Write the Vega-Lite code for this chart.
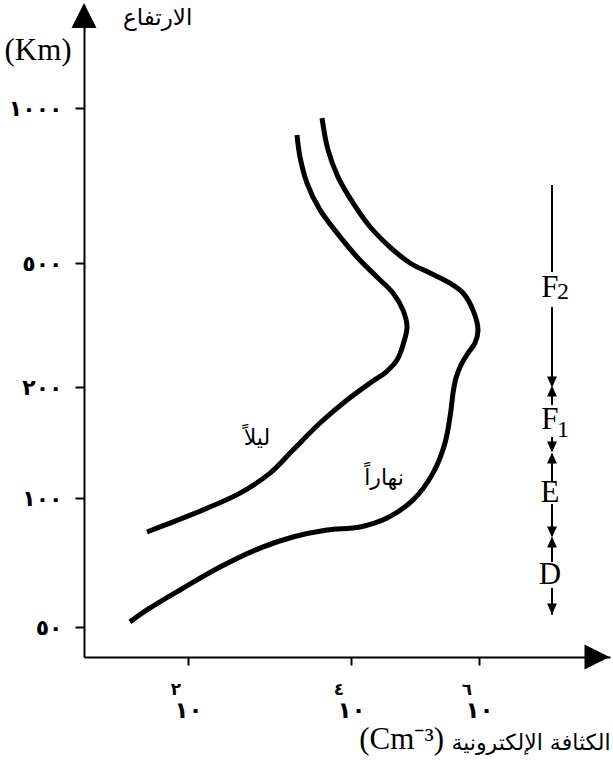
{
  "$schema": "https://vega.github.io/schema/vega-lite/v6.json",
  "width": 526,
  "height": 652,
  "autosize": "none",
  "padding": {"left": 84, "top": 5, "right": 3, "bottom": 113},
  "background": "white",
  "config": {"view": {"stroke": null}},
  "datasets": {
    "curves": [
      {"s": "day", "i": 1, "density": 4406, "alt": 956},
      {"s": "day", "i": 2, "density": 5224, "alt": 829},
      {"s": "day", "i": 3, "density": 6918, "alt": 735},
      {"s": "day", "i": 4, "density": 10746, "alt": 654},
      {"s": "day", "i": 5, "density": 19815, "alt": 588},
      {"s": "day", "i": 6, "density": 40644, "alt": 537},
      {"s": "day", "i": 7, "density": 83560, "alt": 500},
      {"s": "day", "i": 8, "density": 171400, "alt": 464.5},
      {"s": "day", "i": 9, "density": 352400, "alt": 431},
      {"s": "day", "i": 10, "density": 562300, "alt": 400.6},
      {"s": "day", "i": 11, "density": 805400, "alt": 353},
      {"s": "day", "i": 12, "density": 964400, "alt": 304.8},
      {"s": "day", "i": 13, "density": 866000, "alt": 276.8},
      {"s": "day", "i": 14, "density": 673500, "alt": 257},
      {"s": "day", "i": 15, "density": 523300, "alt": 235.3},
      {"s": "day", "i": 16, "density": 437100, "alt": 213.7},
      {"s": "day", "i": 17, "density": 392500, "alt": 192.6},
      {"s": "day", "i": 18, "density": 365200, "alt": 173.2},
      {"s": "day", "i": 19, "density": 294400, "alt": 141},
      {"s": "day", "i": 20, "density": 191000, "alt": 116.8},
      {"s": "day", "i": 21, "density": 93130, "alt": 98.9},
      {"s": "day", "i": 22, "density": 36520, "alt": 89.8},
      {"s": "day", "i": 23, "density": 13820, "alt": 85.6},
      {"s": "day", "i": 24, "density": 5076, "alt": 84.2},
      {"s": "day", "i": 25, "density": 1941, "alt": 81.1},
      {"s": "day", "i": 26, "density": 763.6, "alt": 76.4},
      {"s": "day", "i": 27, "density": 247, "alt": 69},
      {"s": "day", "i": 28, "density": 79.8, "alt": 61},
      {"s": "day", "i": 29, "density": 31.4, "alt": 54.8},
      {"s": "day", "i": 30, "density": 19.4, "alt": 51.4},
      {"s": "night", "i": 1, "density": 2175, "alt": 886},
      {"s": "night", "i": 2, "density": 2367, "alt": 803},
      {"s": "night", "i": 3, "density": 2884, "alt": 715},
      {"s": "night", "i": 4, "density": 4165, "alt": 634},
      {"s": "night", "i": 5, "density": 6734, "alt": 572},
      {"s": "night", "i": 6, "density": 12410, "alt": 513.6},
      {"s": "night", "i": 7, "density": 25470, "alt": 450.8},
      {"s": "night", "i": 8, "density": 45290, "alt": 400.6},
      {"s": "night", "i": 9, "density": 64940, "alt": 353},
      {"s": "night", "i": 10, "density": 74990, "alt": 311.6},
      {"s": "night", "i": 11, "density": 64940, "alt": 272.8},
      {"s": "night", "i": 12, "density": 52330, "alt": 244.1},
      {"s": "night", "i": 13, "density": 35240, "alt": 223.4},
      {"s": "night", "i": 14, "density": 22080, "alt": 209.1},
      {"s": "night", "i": 15, "density": 8933, "alt": 184.4},
      {"s": "night", "i": 16, "density": 4165, "alt": 159.7},
      {"s": "night", "i": 17, "density": 1941, "alt": 134.9},
      {"s": "night", "i": 18, "density": 1014, "alt": 116.8},
      {"s": "night", "i": 19, "density": 434.6, "alt": 103.1},
      {"s": "night", "i": 20, "density": 152.8, "alt": 93.8},
      {"s": "night", "i": 21, "density": 60.1, "alt": 87.4},
      {"s": "night", "i": 22, "density": 31.4, "alt": 83.3}
    ],
    "curveLabels": [
      {"label": "ليلاً", "density": 702, "alt": 145.4},
      {"label": "نهاراً", "density": 32780, "alt": 113.3}
    ],
    "segments": [
      {"top": 708.8, "bottom": 467.7},
      {"top": 361.3, "bottom": 203},
      {"top": 197.5, "bottom": 178.7},
      {"top": 146.4, "bottom": 134.1},
      {"top": 131.6, "bottom": 110.5},
      {"top": 96.8, "bottom": 81.5},
      {"top": 80.7, "bottom": 70.9},
      {"top": 61.7, "bottom": 53.4}
    ],
    "arrowheads": [
      {"alt": 207.5, "dir": "down"},
      {"alt": 195.1, "dir": "up"},
      {"alt": 137.5, "dir": "down"},
      {"alt": 128.4, "dir": "up"},
      {"alt": 83.3, "dir": "down"},
      {"alt": 78.9, "dir": "up"},
      {"alt": 55.1, "dir": "down"}
    ],
    "layerNames": [
      {"name": "F", "alt": 415.6},
      {"name": "F", "alt": 162.8},
      {"name": "E", "alt": 103.1},
      {"name": "D", "alt": 66.1}
    ],
    "layerSubs": [
      {"sub": "2", "alt": 403.5},
      {"sub": "1", "alt": 152.9}
    ],
    "exponents": [
      {"density": 100, "e": "٢"},
      {"density": 10000, "e": "٤"},
      {"density": 1000000, "e": "٦"}
    ]
  },
  "layer": [
    {
      "data": {"name": "curves"},
      "mark": {"type": "line", "interpolate": "catmull-rom", "strokeWidth": 5, "color": "black", "strokeCap": "butt"},
      "encoding": {
        "x": {
          "field": "density", "type": "quantitative",
          "scale": {"type": "log", "domain": [5.297, 10000, 111400000], "range": [0, 267, 526], "nice": false, "zero": false},
          "axis": {
            "values": [100, 10000, 1000000],
            "labelExpr": "'١٠'",
            "labelFont": "DejaVu Sans", "labelFontSize": 23, "labelFontWeight": "bold", "labelColor": "black",
            "labelPadding": 52, "labelDx": 3, "labelBaseline": "alphabetic",
            "tickSize": 8, "tickWidth": 2, "tickColor": "black",
            "domainWidth": 2, "domainColor": "black", "grid": false,
            "title": "الكثافة الإلكترونية",
            "titleFont": "DejaVu Sans", "titleFontSize": 22, "titleFontWeight": "normal", "titleColor": "black",
            "titleAnchor": "end", "titleAlign": "right", "titleBaseline": "alphabetic",
            "titleX": 526, "titleY": 92
          }
        },
        "y": {
          "field": "alt", "type": "quantitative",
          "scale": {"type": "log", "domain": [42.55, 50, 100, 200, 500, 1000, 1585], "range": [652, 622, 493, 382, 258, 103, 0], "nice": false, "zero": false},
          "axis": {
            "values": [50, 100, 200, 500, 1000],
            "labelExpr": "datum.value == 1000 ? '١٠٠٠' : datum.value == 500 ? '٥٠٠' : datum.value == 200 ? '٢٠٠' : datum.value == 100 ? '١٠٠' : '٥٠'",
            "labelFont": "DejaVu Sans", "labelFontSize": 22, "labelFontWeight": "bold", "labelColor": "black",
            "labelPadding": 13,
            "tickSize": 9, "tickWidth": 2, "tickColor": "black",
            "domainWidth": 2, "domainColor": "black", "grid": false,
            "title": "(Km)",
            "titleFont": "Liberation Serif", "titleFontSize": 31, "titleFontWeight": "normal", "titleColor": "black",
            "titleAngle": 0, "titleAlign": "left", "titleBaseline": "alphabetic",
            "titleX": -80, "titleY": 54
          }
        },
        "detail": {"field": "s"},
        "order": {"field": "i", "type": "quantitative"}
      }
    },
    {
      "data": {"name": "curveLabels"},
      "mark": {"type": "text", "font": "DejaVu Sans", "fontSize": 22, "color": "black", "align": "center", "baseline": "middle"},
      "encoding": {
        "x": {"field": "density", "type": "quantitative"},
        "y": {"field": "alt", "type": "quantitative"},
        "text": {"field": "label"}
      }
    },
    {
      "data": {"name": "segments"},
      "mark": {"type": "rule", "strokeWidth": 2, "color": "black"},
      "encoding": {
        "x": {"datum": 13820000, "type": "quantitative"},
        "y": {"field": "top", "type": "quantitative"},
        "y2": {"field": "bottom"}
      }
    },
    {
      "data": {"name": "arrowheads"},
      "mark": {"type": "point", "filled": true, "color": "black", "opacity": 1, "size": 120, "strokeWidth": 0},
      "encoding": {
        "x": {"datum": 13820000, "type": "quantitative"},
        "y": {"field": "alt", "type": "quantitative"},
        "shape": {"field": "dir", "type": "nominal", "scale": {"domain": ["down", "up"], "range": ["M-0.9,-1L0.9,-1L0,1Z", "M-0.9,1L0.9,1L0,-1Z"]}, "legend": null}
      }
    },
    {
      "data": {"name": "layerNames"},
      "mark": {"type": "text", "font": "Liberation Serif", "fontSize": 31, "color": "black", "align": "center", "baseline": "middle", "dx": -2},
      "encoding": {
        "x": {"datum": 13820000, "type": "quantitative"},
        "y": {"field": "alt", "type": "quantitative"},
        "text": {"field": "name"}
      }
    },
    {
      "data": {"name": "layerSubs"},
      "mark": {"type": "text", "font": "Liberation Serif", "fontSize": 24, "color": "black", "align": "center", "baseline": "middle", "dx": 11},
      "encoding": {
        "x": {"datum": 13820000, "type": "quantitative"},
        "y": {"field": "alt", "type": "quantitative"},
        "text": {"field": "sub"}
      }
    },
    {
      "data": {"name": "exponents"},
      "mark": {"type": "text", "font": "DejaVu Sans", "fontSize": 17, "fontWeight": "bold", "color": "black", "align": "center", "baseline": "middle", "dx": -12, "dy": 33},
      "encoding": {
        "x": {"field": "density", "type": "quantitative"},
        "y": {"datum": 42.55, "type": "quantitative"},
        "text": {"field": "e"}
      }
    },
    {
      "data": {"values": [{"t": "(Cm⁻³)"}]},
      "mark": {"type": "text", "font": "Liberation Serif", "fontSize": 31, "color": "black", "align": "right", "baseline": "alphabetic", "dx": -166, "dy": 92},
      "encoding": {
        "x": {"datum": 111400000, "type": "quantitative"},
        "y": {"datum": 42.55, "type": "quantitative"},
        "text": {"field": "t"}
      }
    },
    {
      "data": {"values": [{"t": "الارتفاع"}]},
      "mark": {"type": "text", "font": "DejaVu Sans", "fontSize": 23, "color": "black", "align": "left", "baseline": "top", "dx": 39, "dy": 2},
      "encoding": {
        "x": {"datum": 5.297, "type": "quantitative"},
        "y": {"datum": 1585, "type": "quantitative"},
        "text": {"field": "t"}
      }
    },
    {
      "data": {"values": [{"axis": "y"}]},
      "mark": {"type": "point", "filled": true, "color": "black", "opacity": 1, "size": 625, "strokeWidth": 0, "shape": "M0,-1L1,1L-1,1Z"},
      "encoding": {
        "x": {"datum": 5.297, "type": "quantitative"},
        "y": {"datum": 1512, "type": "quantitative"}
      }
    },
    {
      "data": {"values": [{"axis": "x"}]},
      "mark": {"type": "point", "filled": true, "color": "black", "opacity": 1, "size": 625, "strokeWidth": 0, "shape": "M1,0L-1,-1L-1,1Z"},
      "encoding": {
        "x": {"datum": 69800000, "type": "quantitative"},
        "y": {"datum": 42.55, "type": "quantitative"}
      }
    }
  ]
}
